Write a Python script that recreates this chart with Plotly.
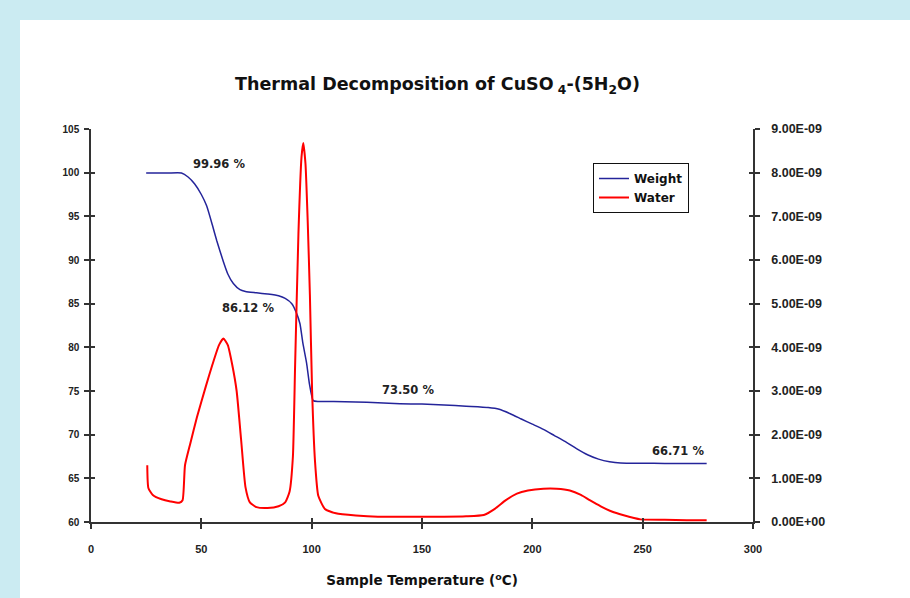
import plotly.graph_objects as go

# ---- data ----
weight_temp = [25, 30, 35, 41, 44, 47, 50, 52.4, 55, 57, 60, 62, 64.5, 67.5, 70, 75, 80, 85, 88, 91,
               93, 94.7, 96, 97.7, 99, 100.7, 103, 110, 120, 130, 140, 150, 160, 170, 180, 185, 190,
               195, 200, 205, 210, 215, 220, 225, 230, 235, 240, 250, 260, 270, 279]
weight_pct = [99.96, 99.96, 99.96, 99.96, 99.5, 98.7, 97.5, 96.2, 94.0, 92.2, 89.8, 88.4, 87.3, 86.6,
              86.4, 86.25, 86.1, 85.9, 85.6, 85.0, 84.0, 82.7, 80.5, 78.2, 75.8, 73.9, 73.8, 73.8,
              73.75, 73.65, 73.55, 73.5, 73.4, 73.25, 73.1, 72.9, 72.4, 71.8, 71.2, 70.6, 69.9, 69.2,
              68.4, 67.7, 67.2, 66.9, 66.75, 66.72, 66.71, 66.71, 66.71]

water_temp = [25.5, 26, 28, 32, 36, 40, 41.5, 42.6, 45, 48, 52, 55, 58, 60, 62, 64, 66, 68, 70, 72,
              75, 80, 85, 88, 90, 91.5, 92.5, 94, 95.4, 96.2, 97.2, 98.2, 99.2, 100.2, 101.5, 103,
              106, 111, 120, 130, 140, 150, 160, 170, 178, 183, 188, 193, 198, 205, 211, 217, 222,
              226, 231, 236, 241, 249, 260, 270, 279]
water_signal = [1.3e-9, 0.78e-9, 0.62e-9, 0.52e-9, 0.47e-9, 0.44e-9, 0.5e-9, 1.3e-9, 1.8e-9, 2.4e-9,
                3.1e-9, 3.6e-9, 4.05e-9, 4.2e-9, 4.05e-9, 3.6e-9, 3.0e-9, 1.9e-9, 0.8e-9, 0.45e-9,
                0.34e-9, 0.32e-9, 0.36e-9, 0.45e-9, 0.7e-9, 1.5e-9, 3.6e-9, 6.6e-9, 8.36e-9, 8.68e-9,
                8.2e-9, 6.9e-9, 5.2e-9, 3.0e-9, 1.4e-9, 0.6e-9, 0.3e-9, 0.2e-9, 0.15e-9, 0.12e-9,
                0.12e-9, 0.12e-9, 0.12e-9, 0.13e-9, 0.16e-9, 0.3e-9, 0.5e-9, 0.65e-9, 0.72e-9,
                0.76e-9, 0.76e-9, 0.72e-9, 0.62e-9, 0.5e-9, 0.36e-9, 0.24e-9, 0.16e-9, 0.06e-9,
                0.05e-9, 0.04e-9, 0.04e-9]

left_ticks = [60, 65, 70, 75, 80, 85, 90, 95, 100, 105]
right_tickvals = [0, 1e-9, 2e-9, 3e-9, 4e-9, 5e-9, 6e-9, 7e-9, 8e-9, 9e-9]
right_ticktext = ["0.00E+00", "1.00E-09", "2.00E-09", "3.00E-09", "4.00E-09",
                  "5.00E-09", "6.00E-09", "7.00E-09", "8.00E-09", "9.00E-09"]
x_ticks = [0, 50, 100, 150, 200, 250, 300]

step_labels = ["99.96 %", "86.12 %", "73.50 %", "66.71 %"]
step_label_x = [58, 71, 143.5, 266]
step_label_y = [101, 84.5, 75.1, 68.1]

# ---- figure ----
FONT = "Liberation Sans"
WIDE = "DejaVu Sans"
fig = go.Figure()
fig.add_trace(go.Scatter(x=weight_temp, y=weight_pct, name="Weight", mode="lines",
                         line=dict(color="#24249a", width=1.5, shape="spline", smoothing=0.5)))
fig.add_trace(go.Scatter(x=water_temp, y=water_signal, name="Water", mode="lines", yaxis="y2",
                         line=dict(color="#ff0000", width=2, shape="spline", smoothing=0.5)))
# empty helper traces so the inner tick axes are drawn
fig.add_trace(go.Scatter(x=[], y=[], xaxis="x2", yaxis="y3", showlegend=False, hoverinfo="skip"))
fig.add_trace(go.Scatter(x=[], y=[], xaxis="x2", yaxis="y4", showlegend=False, hoverinfo="skip"))

for t, xx, yy in zip(step_labels, step_label_x, step_label_y):
    fig.add_annotation(x=xx, y=yy, text=t, showarrow=False,
                       font=dict(family=WIDE, size=11.5, color="#222", weight="bold"))

# background: light blue band at top and left
W, H = 910, 598
L, R, T, B = 91, 753, 129, 522
pw, ph = R - L, B - T
def px2x(px): return (px - L) / pw
def py2y(py): return (B - py) / ph
fig.add_shape(type="rect", xref="paper", yref="paper", layer="below",
              x0=px2x(0), x1=px2x(W), y0=py2y(H), y1=py2y(0),
              fillcolor="#cbebf2", line=dict(width=0))
fig.add_shape(type="rect", xref="paper", yref="paper", layer="below",
              x0=px2x(20), x1=px2x(W), y0=py2y(H), y1=py2y(20),
              fillcolor="white", line=dict(width=0))

axis_common = dict(showgrid=False, zeroline=False, showline=True, linecolor="#333", linewidth=1.5,
                   ticks="outside", ticklen=5, tickcolor="#333", tickwidth=1.5)
inner = dict(showgrid=False, zeroline=False, showline=False, ticks="inside", ticklen=4,
             tickcolor="#333", tickwidth=1.5, showticklabels=False)

fig.update_layout(
    width=W, height=H,
    margin=dict(l=L, r=W - R, t=T, b=H - B, pad=0),
    paper_bgcolor="white", plot_bgcolor="white",
    title=dict(text="Thermal Decomposition of CuSO<sub> 4</sub>-(5H<sub>2</sub>O)",
               x=(230 + 645) / 2 / W, xanchor="center", y=1 - 84 / H, yanchor="middle",
               yref="container",
               font=dict(family=WIDE, size=17.5, color="#111", weight="bold")),
    xaxis=dict(range=[0, 300], tickvals=x_ticks, ticklabelstandoff=11, **axis_common,
               tickfont=dict(family=FONT, size=11, color="#222", weight="bold"),
               title=dict(text="Sample Temperature (<sup>o</sup>C)", standoff=22,
                          font=dict(family=WIDE, size=13.5, color="#111", weight="bold"))),
    yaxis=dict(range=[60, 105], tickvals=left_ticks, ticklabelstandoff=3, **axis_common,
               tickfont=dict(family=FONT, size=10, color="#222", weight="bold")),
    yaxis2=dict(range=[0, 9e-9], tickvals=right_tickvals, ticktext=right_ticktext,
                ticklabelstandoff=9, overlaying="y", side="right", **axis_common,
                tickfont=dict(family=FONT, size=12.5, color="#222", weight="bold")),
    xaxis2=dict(range=[0, 300], tickvals=x_ticks, overlaying="x", anchor="y3", side="bottom", **inner),
    yaxis3=dict(range=[60, 105], tickvals=left_ticks, overlaying="y", anchor="x2", side="left",
                **inner),
    yaxis4=dict(range=[60, 105], tickvals=left_ticks, overlaying="y", anchor="x2",
                side="right", **inner),
    legend=dict(x=px2x(593), y=py2y(163), xanchor="left", yanchor="top",
                bordercolor="#111", borderwidth=1, bgcolor="white",
                font=dict(family=WIDE, size=12, color="#111", weight="bold"),
                tracegroupgap=0, itemwidth=30),
    showlegend=True,
)

fig.write_html("out.html", config={"displayModeBar": False},
               post_script="document.body.style.margin='0';document.body.style.overflow='hidden';")
